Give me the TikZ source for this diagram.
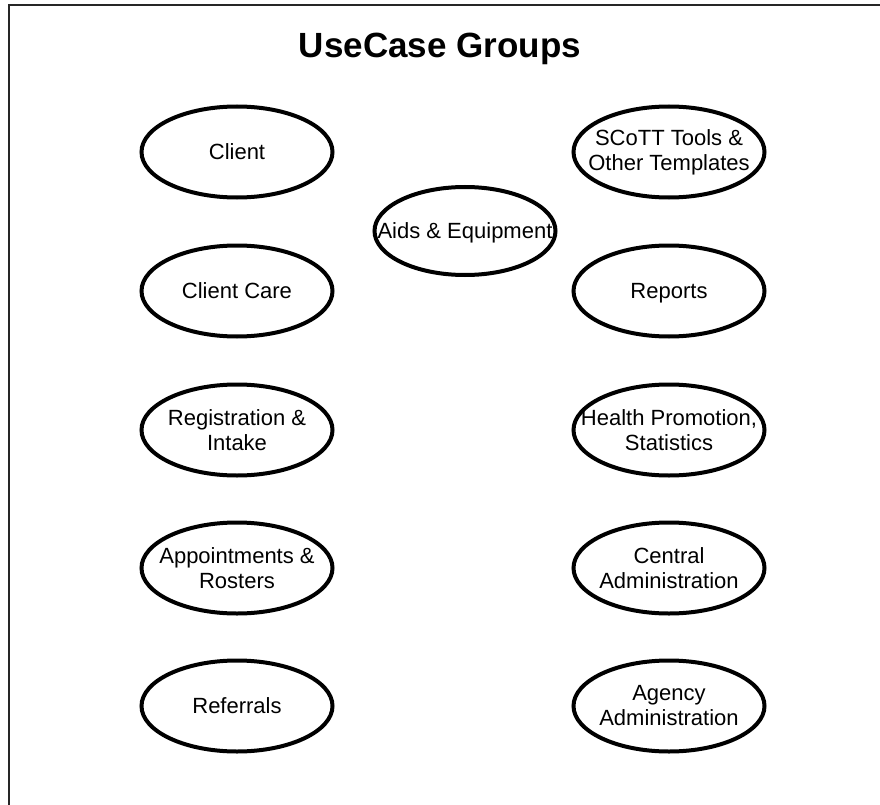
\documentclass[tikz,border=0pt]{standalone}
\usepackage{fontspec}
\setmainfont{Liberation Sans}
\usetikzlibrary{shapes.geometric}
\begin{document}
\begin{tikzpicture}[x=1pt,y=-1pt,
  usecase/.style={ellipse,draw=black,line width=4pt,fill=white,
    minimum width=191pt,minimum height=91pt,inner sep=0pt},
  uclabel/.style={align=center,inner sep=0pt,
    font=\fontsize{22}{25}\selectfont},
  % one-line labels are centred on their capital height
  uclabelone/.style={uclabel,text height=15.8pt,text depth=0pt},
  frameline/.style={line width=1.6pt,draw=black!85}]
  \useasboundingbox (0,0) rectangle (880,805);
  % open frame: top and left edges
  \coordinate (ftl) at (9,5);
  \coordinate (ftr) at (880,5);
  \coordinate (fbl) at (9,805);
  \draw[frameline] (ftr) -- (ftl) -- (fbl);
  % title
  \node[anchor=base,font=\bfseries\fontsize{35}{40}\selectfont] (title) at (440,58) {UseCase Groups};
  % left column
  \node[usecase] (client)  at (237,152) {};
  \node[uclabelone] (client-t) at (client) {Client};
  \node[usecase] (care)    at (237,291) {};
  \node[uclabelone] (care-t) at (care) {Client Care};
  \node[usecase] (reg)     at (237,430) {};
  \node[uclabel] (reg-t) at (reg) {Registration \&\\Intake};
  \node[usecase] (appt)    at (237,568) {};
  \node[uclabel] (appt-t) at (appt) {Appointments \&\\Rosters};
  \node[usecase] (ref)     at (237,706) {};
  \node[uclabelone] (ref-t) at (ref) {Referrals};
  % middle
  \node[usecase,minimum width=181pt,minimum height=88pt] (aids) at (465,231) {};
  \node[uclabelone] (aids-t) at (aids) {Aids \& Equipment};
  % right column
  \node[usecase] (scott)   at (669,152) {};
  \node[uclabel] (scott-t) at (scott) {SCoTT Tools \&\\Other Templates};
  \node[usecase] (reports) at (669,291) {};
  \node[uclabelone] (reports-t) at (reports) {Reports};
  \node[usecase] (health)  at (669,430) {};
  \node[uclabel] (health-t) at (health) {Health Promotion,\\Statistics};
  \node[usecase] (central) at (669,568) {};
  \node[uclabel] (central-t) at (central) {Central\\Administration};
  \node[usecase] (agency)  at (669,706) {};
  \node[uclabel] (agency-t) at (agency) {Agency\\Administration};
\end{tikzpicture}
\end{document}
